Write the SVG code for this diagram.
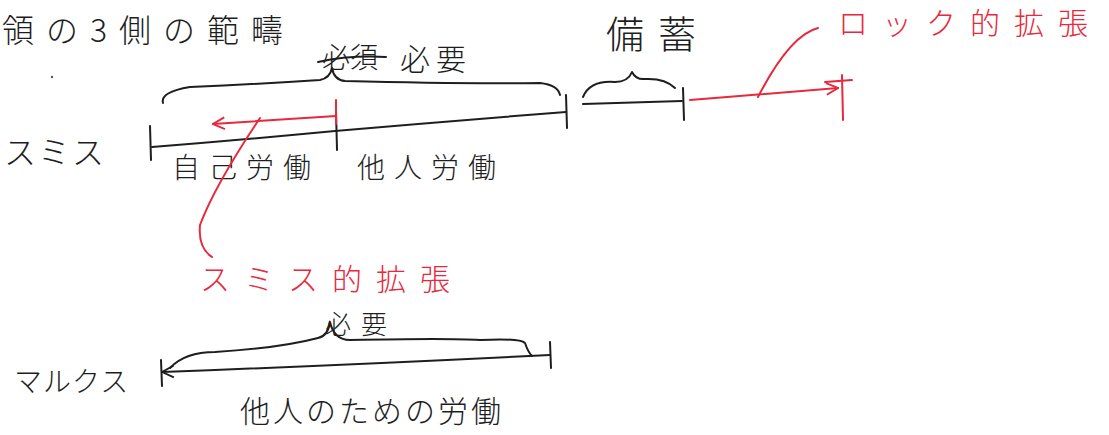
<svg xmlns="http://www.w3.org/2000/svg" width="1109" height="435" viewBox="0 0 1109 435">
<style>
.ink{fill:none;stroke:#1e1e1e;stroke-width:2;stroke-linecap:round;stroke-linejoin:round}
.red{fill:none;stroke:#e8283c;stroke-width:2;stroke-linecap:round;stroke-linejoin:round}
.t{font-family:"Noto Sans CJK JP","Noto Sans",sans-serif;fill:#1e1e1e;font-weight:300}
.tr{font-family:"Noto Sans CJK JP","Noto Sans",sans-serif;fill:#e8283c;font-weight:300}
</style>
<defs>
<marker id="ar" viewBox="0 0 12 12" refX="11" refY="6" markerWidth="14" markerHeight="14" markerUnits="userSpaceOnUse" orient="auto-start-reverse">
<path d="M1,1 L11,6 L1,11" fill="none" stroke="#e8283c" stroke-width="1.6"/>
</marker>
<marker id="ak" viewBox="0 0 12 12" refX="11" refY="6" markerWidth="14" markerHeight="14" markerUnits="userSpaceOnUse" orient="auto-start-reverse">
<path d="M1,1 L11,6 L1,11" fill="none" stroke="#1e1e1e" stroke-width="1.6"/>
</marker>
</defs>
<rect width="1109" height="435" fill="#ffffff"/>
<g id="title"><text class="t" x="2" y="42" font-size="32" letter-spacing="12">領の3側の範疇</text></g>
<circle cx="52" cy="77" r="1.2" fill="#555"/>
<g id="smith">
<text class="t" x="4" y="164" font-size="32" letter-spacing="2">スミス</text>
<text class="t" x="172" y="178" font-size="28" letter-spacing="9">自己労働</text>
<text class="t" x="357" y="178" font-size="28" letter-spacing="9">他人労働</text>
</g>
<g id="necessary-top">
<text class="t" x="322" y="68" font-size="28">必須</text>
<path class="ink" d="M318,62 Q350,55 386,57"/>
<text class="t" x="400" y="70" font-size="30" letter-spacing="6">必要</text>
</g>
<g id="stock"><text class="t" x="606" y="48" font-size="38" letter-spacing="14">備蓄</text></g>
<g id="locke"><text class="tr" x="838" y="34" font-size="30" letter-spacing="14">ロック的拡張</text></g>
<g id="smith-ext"><text class="tr" x="200" y="290" font-size="30" letter-spacing="14">スミス的拡張</text></g>
<g id="marx">
<text class="t" x="14" y="392" font-size="28" letter-spacing="1">マルクス</text>
<text class="t" x="325" y="334" font-size="26" letter-spacing="10">必要</text>
<text class="t" x="240" y="422" font-size="30" letter-spacing="3">他人のための労働</text>
</g>
<g id="connectors">
<path class="ink" d="M152,147 Q240,140 335,131 Q450,121 566,112"/>
<path class="ink" d="M150,126 L151,160"/>
<path class="ink" d="M336,110 L337,150"/>
<path class="ink" d="M566,95 L567,128"/>
<path class="ink" d="M583,104 L682,101"/>
<path class="ink" d="M683,88 L684,120"/>
<path class="ink" d="M163,103 Q160,92 190,87 Q260,84 320,80 Q330,78 332,68 Q334,80 345,81 Q460,84 540,83 Q558,85 560,95"/>
<path class="ink" d="M583,97 Q590,80 615,82 Q628,82 632,72 Q636,80 645,79 Q665,78 675,88"/>
<path class="red" d="M336,116 L213,124" marker-end="url(#ar)"/>
<path class="red" d="M336,100 L336,124"/>
<path class="red" d="M260,118 Q215,185 200,225 Q198,248 212,257"/>
<path class="red" d="M690,100 L838,88" marker-end="url(#ar)"/>
<path class="red" d="M842,75 L843,120"/>
<path class="red" d="M825,82 L852,80"/>
<path class="red" d="M758,97 Q790,35 818,28"/>
<path class="ink" d="M162,372 Q350,365 550,355" marker-start="url(#ak)"/>
<path class="ink" d="M161,360 L162,386"/>
<path class="ink" d="M550,342 L551,368"/>
<path class="ink" d="M170,368 Q185,352 215,352 Q280,348 318,338 Q328,336 330,322 Q334,340 350,340 Q450,338 480,340 Q520,338 525,343 Q528,352 532,356"/>
</g>
</svg>
